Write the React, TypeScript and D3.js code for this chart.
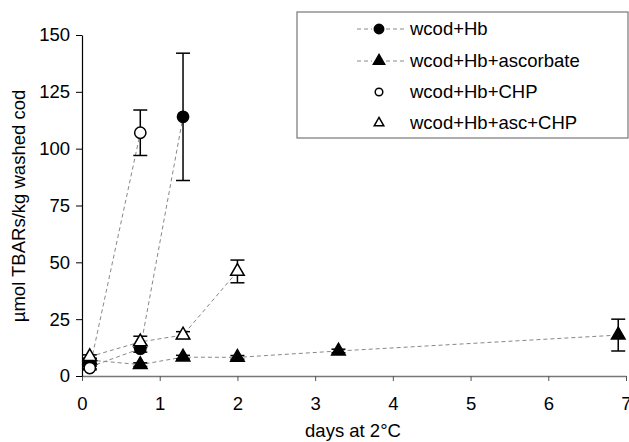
import * as d3 from 'd3';
import React, { useRef, useEffect } from 'react';

// days at 2°C and µmol TBARs/kg for each treatment
const hbDays = [0.1, 0.75, 1.3];
const hbVals = [4, 12, 114];
const hbErr = [0.8, 1.5, 28];

const ascDays = [0.1, 0.75, 1.3, 2, 3.3, 6.9];
const ascVals = [7, 5, 8.3, 8.2, 11, 18];
const ascErr = [0.8, 0.8, 0.8, 0.8, 0.8, 7];

const chpDays = [0.1, 0.75];
const chpVals = [3.5, 107];
const chpErr = [0.8, 10];

const ascChpDays = [0.1, 0.75, 1.3, 2];
const ascChpVals = [8.5, 15, 18, 46];
const ascChpErr = [0.8, 2.5, 1.5, 5];

const xTicks = [0, 1, 2, 3, 4, 5, 6, 7];
const yTicks = [0, 25, 50, 75, 100, 125, 150];

const legendNames = ['wcod+Hb', 'wcod+Hb+ascorbate', 'wcod+Hb+CHP', 'wcod+Hb+asc+CHP'];

const W = 629, H = 442;
const FONT = 'Liberation Sans, Arial, sans-serif';

function App() {
  const ref = useRef<SVGSVGElement>(null);

  useEffect(() => {
    const svg = d3.select(ref.current);
    svg.selectAll('*').remove();

    const x = d3.scaleLinear().domain([0, 7]).range([82, 626]);
    const y = d3.scaleLinear().domain([0, 150]).range([376, 35]);

    const series = [
      { days: hbDays, vals: hbVals, err: hbErr, shape: 'circle', fill: '#000' },
      { days: ascDays, vals: ascVals, err: ascErr, shape: 'triangle', fill: '#000' },
      { days: chpDays, vals: chpVals, err: chpErr, shape: 'circle', fill: '#fff' },
      { days: ascChpDays, vals: ascChpVals, err: ascChpErr, shape: 'triangle', fill: '#fff' },
    ];

    // x axis
    const xAxis = svg.append('g').attr('transform', `translate(0,${y(0)})`)
      .call(d3.axisBottom(x).tickValues(xTicks).tickSize(5).tickSizeOuter(0).tickFormat(d3.format('d')));
    xAxis.select('.domain').attr('stroke', '#777').attr('stroke-width', 1.5);
    xAxis.selectAll('.tick line').attr('stroke', '#555');
    xAxis.selectAll('.tick text').attr('font-family', FONT).attr('font-size', 18.5)
      .attr('fill', '#000').attr('dy', '1.4em');

    // y axis
    const yAxis = svg.append('g').attr('transform', `translate(${x(0)},0)`)
      .call(d3.axisLeft(y).tickValues(yTicks).tickSize(6).tickSizeOuter(0));
    yAxis.select('.domain').attr('stroke', '#000').attr('stroke-width', 1.2);
    yAxis.selectAll('.tick text').attr('font-family', FONT).attr('font-size', 18.5)
      .attr('fill', '#000').attr('x', -12);

    // lines
    const line = d3.line<[number, number]>().x(d => x(d[0])).y(d => y(d[1]));
    series.forEach(s => {
      svg.append('path')
        .datum(s.days.map((d, i) => [d, s.vals[i]] as [number, number]))
        .attr('d', line)
        .attr('fill', 'none')
        .attr('stroke', '#888')
        .attr('stroke-width', 1)
        .attr('stroke-dasharray', '4,3');
    });

    // error bars
    series.forEach(s => {
      s.days.forEach((d, i) => {
        const g = svg.append('g').attr('stroke', '#000').attr('stroke-width', 1.5);
        const top = y(s.vals[i] + s.err[i]);
        const bot = y(s.vals[i] - s.err[i]);
        g.append('line').attr('x1', x(d)).attr('x2', x(d)).attr('y1', top).attr('y2', bot);
        g.append('line').attr('x1', x(d) - 7).attr('x2', x(d) + 7).attr('y1', top).attr('y2', top);
        g.append('line').attr('x1', x(d) - 7).attr('x2', x(d) + 7).attr('y1', bot).attr('y2', bot);
      });
    });

    const circleSym = d3.symbol().type(d3.symbolCircle).size(100);
    const triSym = d3.symbol().type(d3.symbolTriangle).size(80);

    // markers
    series.forEach(s => {
      svg.append('g').selectAll('path')
        .data(s.days.map((d, i) => [d, s.vals[i]]))
        .enter().append('path')
        .attr('d', s.shape === 'circle' ? circleSym() : triSym())
        .attr('transform', d => `translate(${x(d[0])},${y(d[1])})`)
        .attr('fill', s.fill)
        .attr('stroke', '#000')
        .attr('stroke-width', 1.5);
    });

    // legend
    const lg = svg.append('g');
    lg.append('rect').attr('x', 297).attr('y', 12).attr('width', 331).attr('height', 126)
      .attr('fill', '#fff').attr('stroke', '#777').attr('stroke-width', 1.2);
    const rowY = [29, 61, 92, 123];
    series.forEach((s, i) => {
      const cy = rowY[i];
      if (i < 2) {
        lg.append('line').attr('x1', 357).attr('x2', 372).attr('y1', cy).attr('y2', cy)
          .attr('stroke', '#888').attr('stroke-dasharray', '4,3');
        lg.append('line').attr('x1', 386).attr('x2', 406).attr('y1', cy).attr('y2', cy)
          .attr('stroke', '#888').attr('stroke-dasharray', '4,3');
      }
      lg.append('path')
        .attr('d', s.shape === 'circle'
          ? d3.symbol().type(d3.symbolCircle).size(i === 0 ? 70 : 45)()
          : d3.symbol().type(d3.symbolTriangle).size(i === 1 ? 55 : 40)())
        .attr('transform', `translate(379,${cy})`)
        .attr('fill', s.fill).attr('stroke', '#000').attr('stroke-width', 1.5);
      lg.append('text').attr('x', 410).attr('y', cy).attr('dy', '0.35em')
        .attr('font-family', FONT).attr('font-size', 18.5).text(legendNames[i]);
    });

    // axis titles
    svg.append('text').attr('x', 353).attr('y', 437).attr('text-anchor', 'middle')
      .attr('font-family', FONT).attr('font-size', 18.5).text('days at 2°C');
    svg.append('text').attr('transform', 'translate(25,206) rotate(-90)').attr('text-anchor', 'middle')
      .attr('font-family', FONT).attr('font-size', 18.5).text('µmol TBARs/kg washed cod');
  }, []);

  return (
    <svg ref={ref} width={W} height={H}
      style={{ position: 'absolute', left: 0, top: 0, background: '#fff' }} />
  );
}

export default App;
